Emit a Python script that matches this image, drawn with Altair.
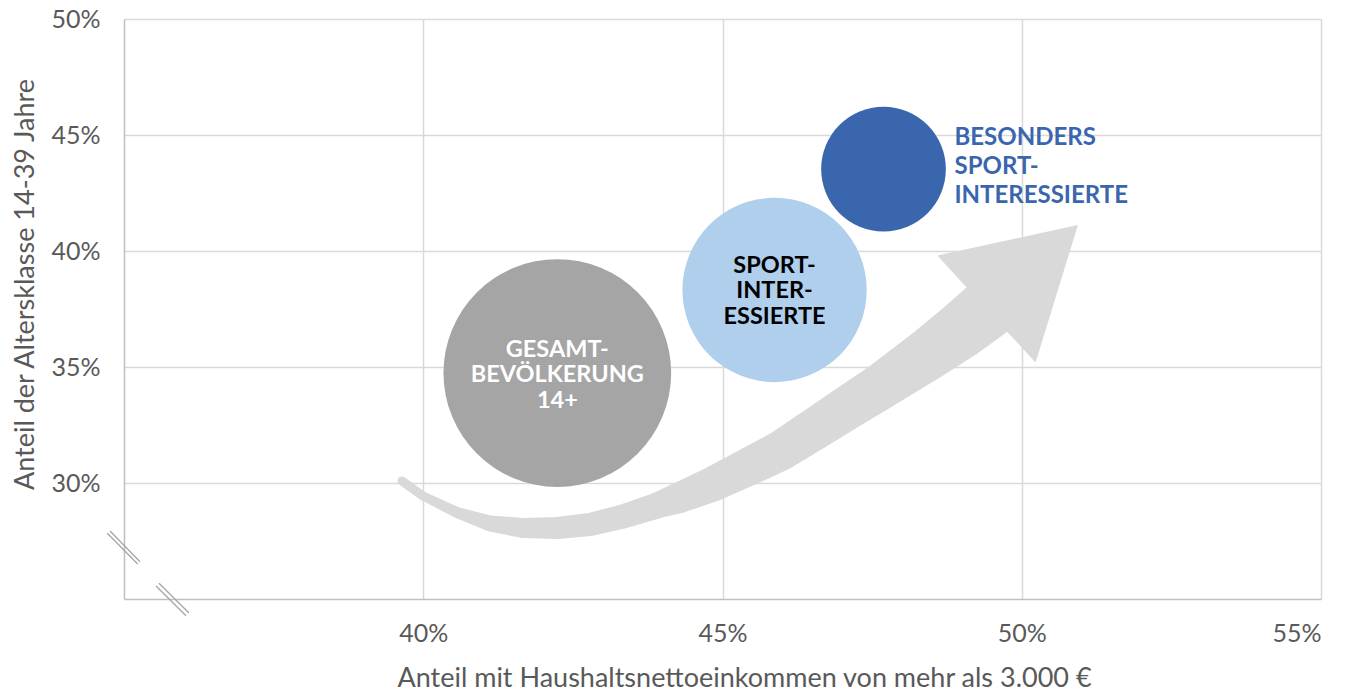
import altair as alt
import pandas as pd

# --- bubble data (x: share with household net income > 3.000 €, y: share aged 14-39) ---
groups = ["GESAMT-\nBEVÖLKERUNG\n14+", "SPORT-\nINTER-\nESSIERTE", "BESONDERS\nSPORT-\nINTERESSIERTE"]
income_share = [42.24, 45.87, 47.69]
age_share = [34.74, 38.32, 43.53]
bubble_area = [51850, 33970, 15550]
bubble_colors = ["#A5A5A5", "#B0CFEC", "#3A66AE"]
label_colors = ["#FFFFFF", "#000000", "#3A66AE"]

# --- decorative trend arrow (centre line in data units, width in px) ---
arrow_x = [39.645, 39.996, 40.564, 41.115, 41.667, 42.235, 42.786, 43.337, 43.906, 44.290,
           44.841, 45.409, 45.961, 46.512, 47.080, 47.632, 48.417, 48.968, 49.419]
arrow_y = [30.086, 29.440, 28.728, 28.254, 28.060, 28.060, 28.211, 28.556, 29.030, 29.375,
           29.957, 30.668, 31.379, 32.284, 33.233, 34.138, 35.517, 36.552, 37.478]
arrow_w = [9, 9, 11, 16, 20, 22, 23, 24, 26, 31, 35, 38, 40, 42, 44, 46, 52, 57, 60]
head_x = [49.41]
head_y = [37.50]

# --- axis break marks ---
brk_x = [34.721, 34.766, 35.535, 35.585]
brk_x2 = [35.229, 35.267, 36.036, 36.086]
brk_y = [27.832, 27.931, 25.560, 25.677]
brk_y2 = [26.509, 26.608, 24.280, 24.397]

x_ticks = [40, 45, 50, 55]
y_ticks = [30, 35, 40, 45, 50]

FONT = "Lato"
GREY_TXT = "#595959"

bubbles = pd.DataFrame({
    "group": groups, "x": income_share, "y": age_share,
    "area": bubble_area, "fill": bubble_colors, "tcol": label_colors,
    "idx": [0, 1, 2],
})
arrow = pd.DataFrame({"x": arrow_x, "y": arrow_y, "w": arrow_w, "o": list(range(len(arrow_x)))})
head = pd.DataFrame({"x": head_x, "y": head_y})
breaks = pd.DataFrame({"x": brk_x, "x2": brk_x2, "y": brk_y, "y2": brk_y2})

xscale = alt.Scale(domain=[35, 55], nice=False, zero=False)
yscale = alt.Scale(domain=[25, 50], nice=False, zero=False)

xaxis = alt.Axis(
    values=x_ticks, labelExpr="datum.value + '%'", ticks=False,
    title="Anteil mit Haushaltsnettoeinkommen von mehr als 3.000 €",
    labelPadding=22, labelFont=FONT, labelFontSize=25, labelColor=GREY_TXT,
    titleFont=FONT, titleFontSize=27, titleFontWeight="normal", titleColor=GREY_TXT,
    titleX=620, titleY=79, titleAlign="center", titleBaseline="middle",
    domainColor="#BFBFBF", domainWidth=1.5, gridColor="#D9D9D9", gridWidth=1.5,
)
yaxis = alt.Axis(
    values=y_ticks, labelExpr="datum.value + '%'", ticks=False,
    title="Anteil der Altersklasse 14-39 Jahre",
    labelPadding=24, labelFont=FONT, labelFontSize=25, labelColor=GREY_TXT,
    titleFont=FONT, titleFontSize=27, titleFontWeight="normal", titleColor=GREY_TXT,
    titleX=-99, titleY=265, titleAngle=270, titleAlign="center", titleBaseline="middle",
    domainColor="#BFBFBF", domainWidth=1.5, gridColor="#D9D9D9", gridWidth=1.5,
)

trail = alt.Chart(arrow).mark_trail(color="#D9D9D9").encode(
    x=alt.X("x:Q", scale=xscale, axis=xaxis),
    y=alt.Y("y:Q", scale=yscale, axis=yaxis),
    size=alt.Size("w:Q", scale=None, legend=None),
    order="o:Q",
)

arrow_head = alt.Chart(head).mark_point(
    shape="M0,-1 L0.585,0 L-0.585,0 Z", filled=True, opacity=1,
    size=61700, angle=47.45, color="#D9D9D9", strokeWidth=0,
).encode(x=alt.X("x:Q", scale=xscale), y=alt.Y("y:Q", scale=yscale))

circles = alt.Chart(bubbles).mark_circle(opacity=1).encode(
    x=alt.X("x:Q", scale=xscale),
    y=alt.Y("y:Q", scale=yscale),
    size=alt.Size("area:Q", scale=None, legend=None),
    color=alt.Color("fill:N", scale=None),
)

gray_text = alt.Chart(bubbles).transform_filter("datum.idx == 0").mark_text(
    font=FONT, fontSize=23.5, fontWeight="bold", lineBreak="\n", lineHeight=25.5,
    align="center", baseline="middle", dy=-23.5,
).encode(
    x=alt.X("x:Q", scale=xscale), y=alt.Y("y:Q", scale=yscale),
    text="group:N", color=alt.Color("tcol:N", scale=None),
)

light_text = alt.Chart(bubbles).transform_filter("datum.idx == 1").mark_text(
    font=FONT, fontSize=23.5, fontWeight="bold", lineBreak="\n", lineHeight=25.5,
    align="center", baseline="middle", dy=-24,
).encode(
    x=alt.X("x:Q", scale=xscale), y=alt.Y("y:Q", scale=yscale),
    text="group:N", color=alt.Color("tcol:N", scale=None),
)

outer_text = alt.Chart(bubbles).transform_filter("datum.idx == 2").mark_text(
    font=FONT, fontSize=24, fontWeight="bold", lineBreak="\n", lineHeight=29,
    align="left", baseline="middle", dx=71, dy=-31,
).encode(
    x=alt.X("x:Q", scale=xscale), y=alt.Y("y:Q", scale=yscale),
    text="group:N", color=alt.Color("tcol:N", scale=None),
)

break_marks = alt.Chart(breaks).mark_rule(color="#A6A6A6", strokeWidth=1.3).encode(
    x=alt.X("x:Q", scale=xscale), x2="x2:Q",
    y=alt.Y("y:Q", scale=yscale), y2="y2:Q",
)

chart = alt.layer(trail, arrow_head, circles, gray_text, light_text, outer_text, break_marks).properties(
    width=1197, height=580,
    autosize=alt.AutoSizeParams(type="none"),
    padding={"left": 116, "top": 11, "right": 20, "bottom": 90},
    background="white",
).configure_view(strokeWidth=0)

chart.save("out.html", embed_options={"renderer": "svg", "actions": False})
